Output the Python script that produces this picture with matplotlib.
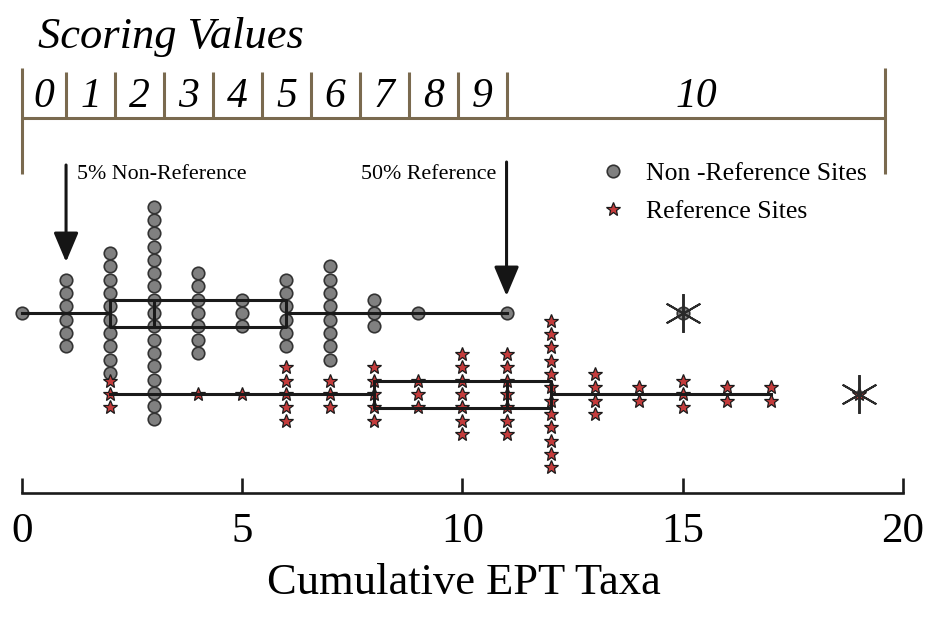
import numpy as np
import matplotlib
matplotlib.use("Agg")
import matplotlib.pyplot as plt

plt.rcParams['font.family'] = ['Liberation Serif', 'DejaVu Serif']

# number of sites at each cumulative EPT taxa count
nonref_taxa = [0, 1, 2, 3, 4, 5, 6, 7, 8, 9, 11, 15]
nonref_counts = [1, 6, 10, 17, 7, 3, 6, 8, 3, 1, 1, 1]
ref_taxa = [2, 4, 5, 6, 7, 8, 9, 10, 11, 12, 13, 14, 15, 16, 17, 19]
ref_counts = [3, 1, 1, 5, 3, 5, 3, 7, 7, 12, 4, 2, 3, 2, 2, 1]

# scoring: 0 below the 5% non-reference value, 10 above the 50% reference value
pct5_nonref = 1
pct50_ref = 11
score_end = 19.6
score_labels = [str(i) for i in range(11)]
x_ticks = [0, 5, 10, 15, 20]

# vertical layout (pixels from the top)
nonref_y = 313
ref_y = 394
step = 13.3
ink = '#1a1a1a'
brown = '#7a6a4f'


def stack(taxa, counts, y0):
    xs, ys = [], []
    for t, n in zip(taxa, counts):
        off = (np.arange(n) - (n - 1) / 2) * step
        xs += [t] * n
        ys += list(y0 + off)
    return xs, ys


fig = plt.figure(figsize=(9.28, 6.19), dpi=100)
ax = fig.add_axes([0, (619 - 493) / 619, 1, 493 / 619])

# dot columns
x1, y1 = stack(nonref_taxa, nonref_counts, nonref_y)
x2, y2 = stack(ref_taxa, ref_counts, ref_y)
h1, = ax.plot(x1, y1, 'o', ms=9, mfc='#808080', mec='#333333', mew=1.2,
              ls='none', label='Non -Reference Sites', zorder=2)
h2, = ax.plot(x2, y2, '*', ms=10.5, mfc='#c43c3c', mec=ink, mew=0.9,
              ls='none', label='Reference Sites', zorder=2)

# box plots on top of the dots, outliers as vertical-spoke asterisks
line_kw = dict(color=ink, linewidth=2.2)
ax.boxplot([np.repeat(nonref_taxa, nonref_counts), np.repeat(ref_taxa, ref_counts)],
           positions=[nonref_y, ref_y], widths=27, orientation='horizontal',
           whis=1.5, showcaps=False, manage_ticks=False, zorder=3,
           boxprops=line_kw, medianprops=line_kw, whiskerprops=line_kw,
           flierprops=dict(marker=(6, 2, 0), markersize=28, markeredgecolor='#2a2a2a',
                           markeredgewidth=1.4, markerfacecolor='none'))

# scoring bar
edges = [0] + list(np.linspace(pct5_nonref, pct50_ref, 10)) + [score_end]
ax.hlines(118, edges[0], edges[-1], color=brown, lw=2.2)
ax.vlines(edges[1:-1], 72, 118, color=brown, lw=2.2)
ax.vlines([edges[0], edges[-1]], 68, 174, color=brown, lw=2.2)
for i, lab in enumerate(score_labels):
    ax.text((edges[i] + edges[i + 1]) / 2, 107, lab, fontsize=30, style='italic',
            ha='center', va='baseline')
ax.text(0.36, 48, 'Scoring Values', fontsize=32, style='italic', va='baseline')

# percentile arrows
arrow_kw = dict(arrowstyle='-|>,head_length=0.9,head_width=0.38', mutation_scale=20,
                lw=2.2, color='#151515', shrinkA=0, shrinkB=0)
ax.annotate('', xy=(pct5_nonref, 262), xytext=(pct5_nonref, 165), arrowprops=arrow_kw)
ax.annotate('', xy=(pct50_ref, 296), xytext=(pct50_ref, 162), arrowprops=arrow_kw)
ax.text(pct5_nonref + 0.25, 179, '5% Non-Reference', fontsize=15.8, va='baseline')
ax.text(pct50_ref - 0.22, 179, '50% Reference', fontsize=15.8, va='baseline', ha='right')

ax.legend(handles=[h1, h2], loc='upper left', bbox_to_anchor=(600 / 928, 1 - 162 / 619),
          bbox_transform=fig.transFigure, frameon=False, fontsize=18.5, handlelength=1.0,
          handletextpad=0.8, labelspacing=0.6, borderpad=0, borderaxespad=0, numpoints=1)

# axis
ax.set_xlim(-22 / 44.05, 906 / 44.05)
ax.set_ylim(493, 0)
for s in ['top', 'left', 'right']:
    ax.spines[s].set_visible(False)
ax.spines['bottom'].set_bounds(0, 20)
ax.spines['bottom'].set_linewidth(1.9)
ax.spines['bottom'].set_color(ink)
ax.set_yticks([])
ax.set_xticks(x_ticks)
ax.tick_params(axis='x', direction='in', length=11, width=1.9, color=ink,
               pad=14, labelsize=31)
ax.set_xlabel('Cumulative EPT Taxa', fontsize=32, labelpad=9)

fig.savefig('out.png', dpi=100)
